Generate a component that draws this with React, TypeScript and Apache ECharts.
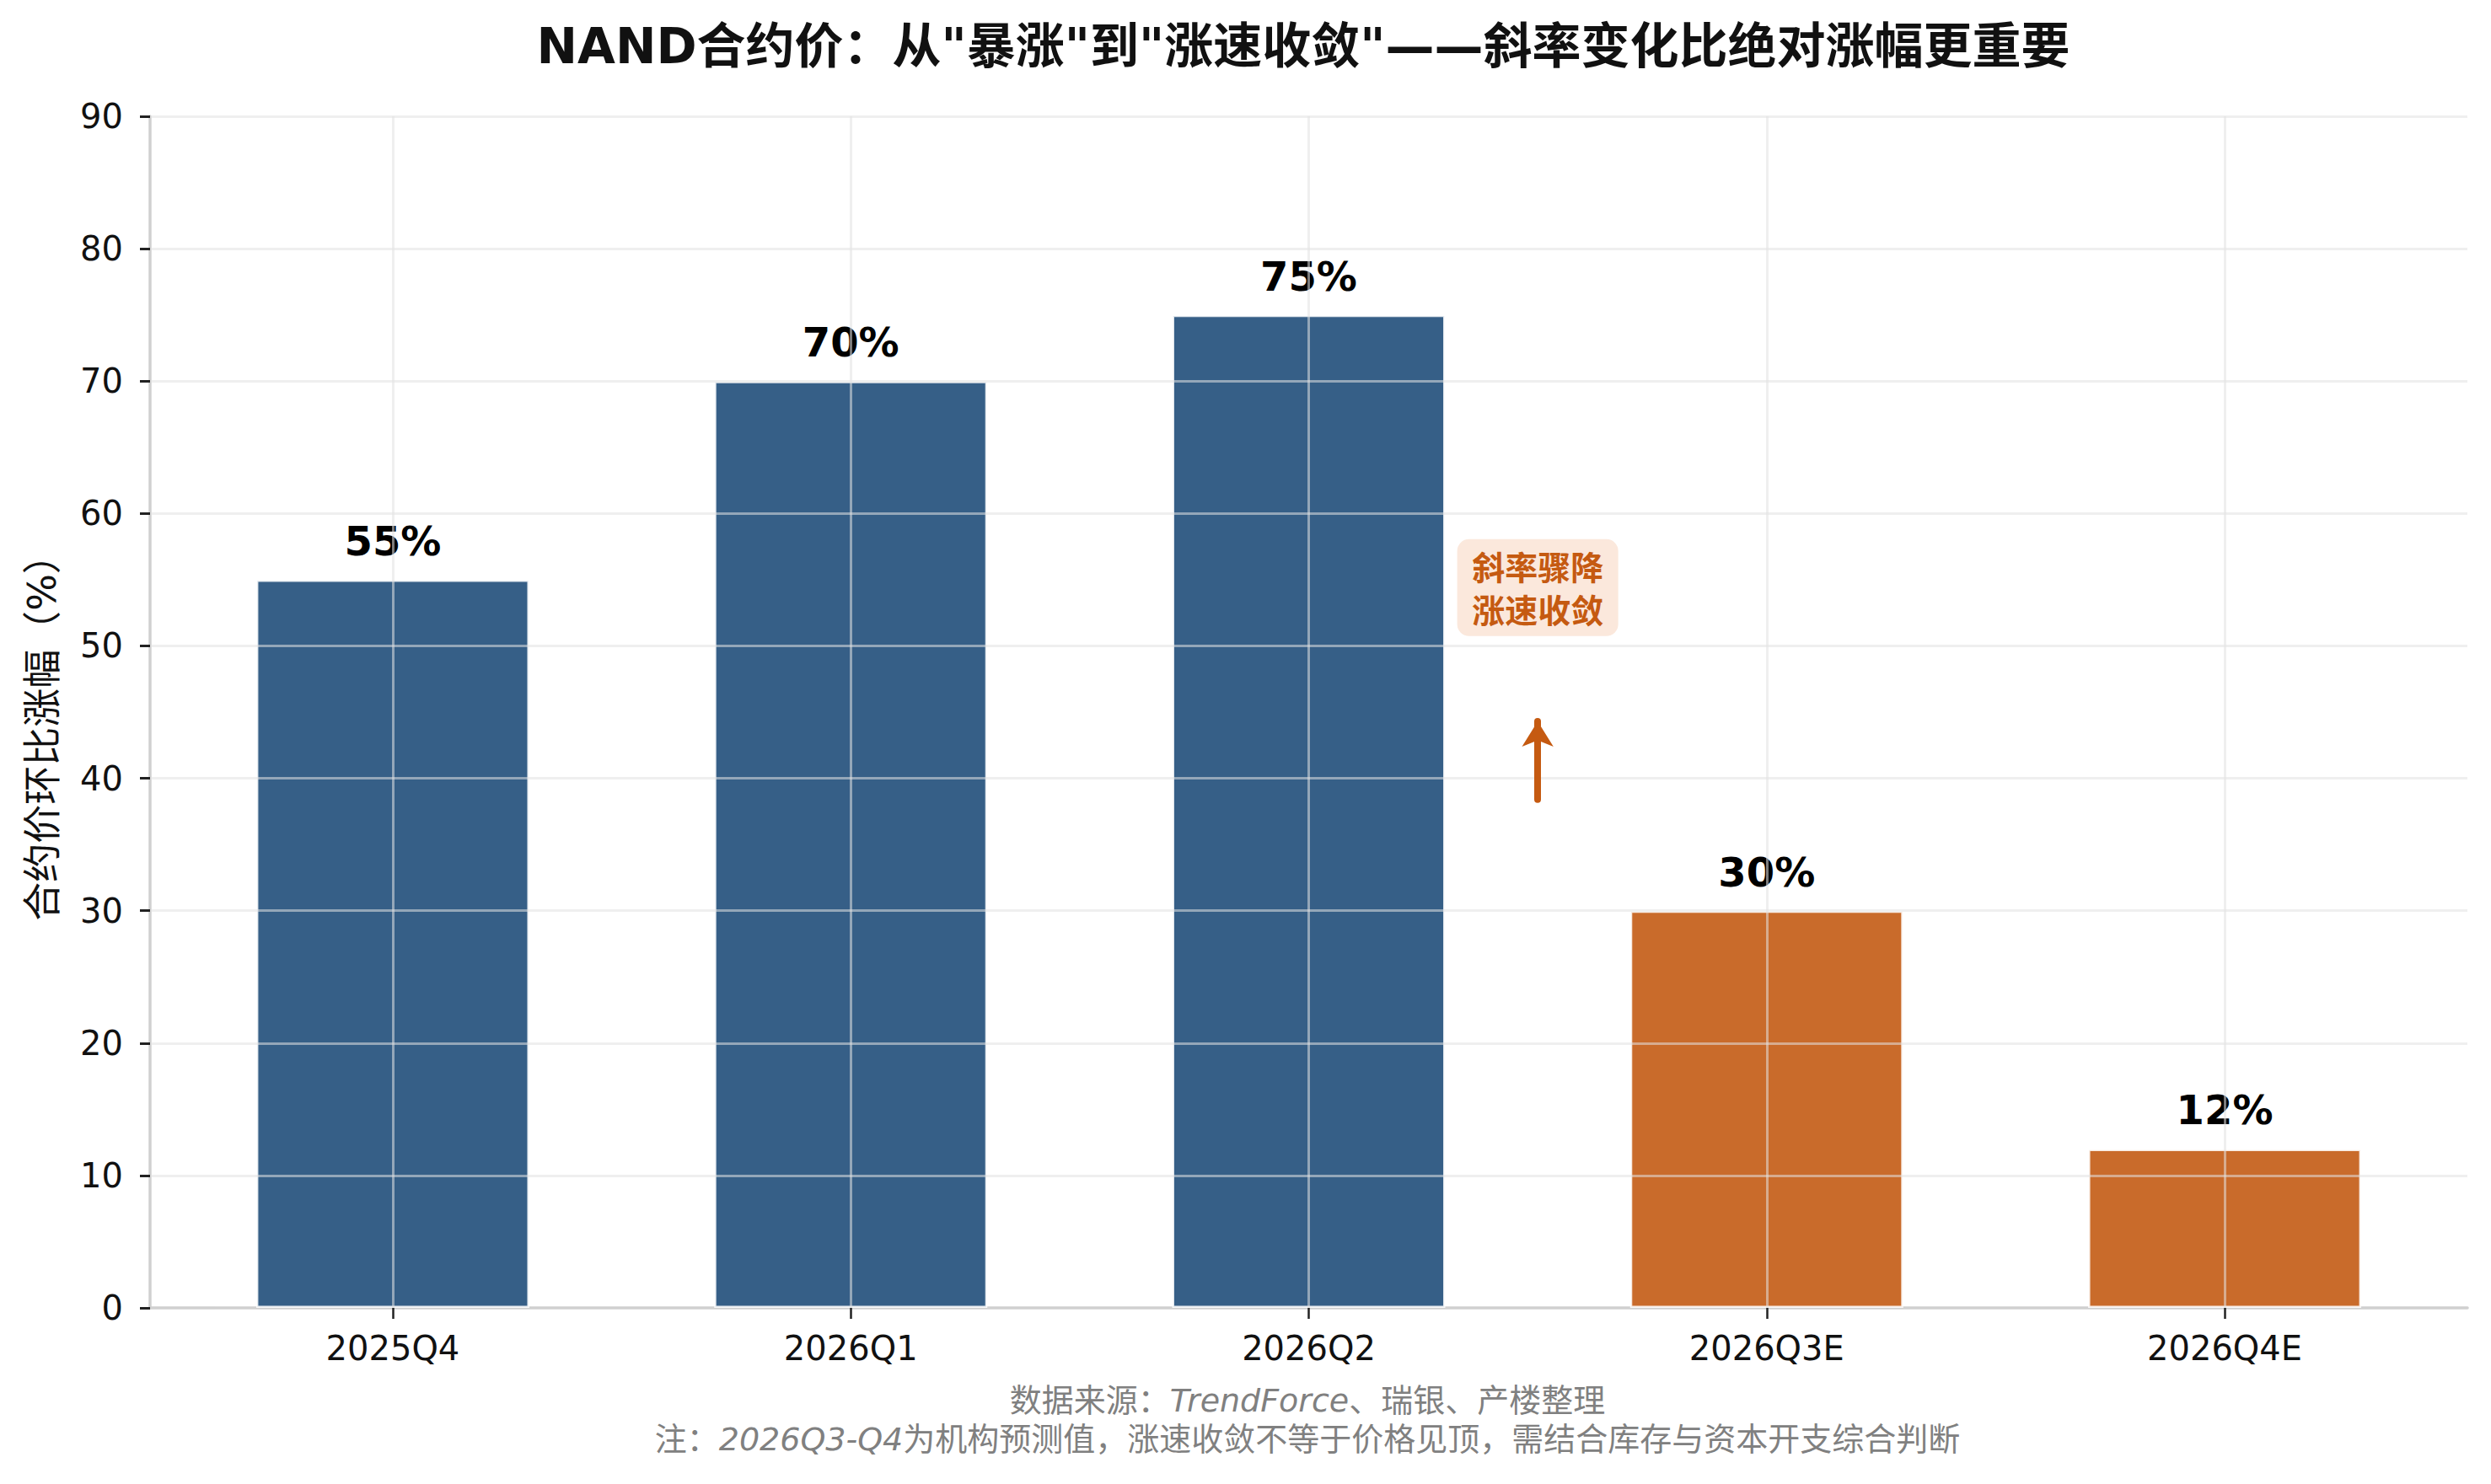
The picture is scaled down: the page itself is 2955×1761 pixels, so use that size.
import React, { useEffect, useRef } from 'react';
import * as echarts from 'echarts';

const categories = ['2025Q4', '2026Q1', '2026Q2', '2026Q3E', '2026Q4E'];
const growth = [55, 70, 75, 30, 12];
const isForecast = [false, false, false, true, true];
const categoryIndex = [0, 1, 2, 3, 4];
const yGridValues = [10, 20, 30, 40, 50, 60, 70, 80, 90];
const xRange = [-0.53, 4.53];
const arrowFrom = [2.5, 38.4];
const arrowTo = [2.5, 44.3];
const noteBoxPos = [2.5, 54.4];
const noteLines = ['斜率骤降', '涨速收敛'];
const noteLineY = [56.05, 52.85];
const titleText = 'NAND合约价：从"暴涨"到"涨速收敛"——斜率变化比绝对涨幅更重要';
const yName = '合约价环比涨幅（%）';
const sourceText = '数据来源：{it|TrendForce}、瑞银、产楼整理';
const noteLine = '注：{it|2026Q3-Q4}为机构预测值，涨速收敛不等于价格见顶，需结合库存与资本开支综合判断';

const FONT = '"DejaVu Sans", "Noto Sans CJK SC", sans-serif';
const BLUE = '#365f87';
const ORANGE = '#c96b2b';
const ACCENT = '#c55a11';
const NOTE_BG = '#fbe8dc';
const GRID = 'rgba(225,225,225,0.55)';
const ROUND_BOX =
  'path://M14,0H177A14,14 0 0 1 191,14V101A14,14 0 0 1 177,115H14A14,14 0 0 1 0,101V14A14,14 0 0 1 14,0Z';

export default function App() {
  const ref = useRef<HTMLDivElement>(null);

  useEffect(() => {
    document.body.style.margin = '0';
    document.body.style.overflow = 'hidden';
    if (!ref.current) return;
    const chart = echarts.init(ref.current, undefined, { renderer: 'svg' });
    const gridStyle = { color: GRID, width: 3, type: 'solid' };
    const arrowStyle = { color: ACCENT, width: 8, type: 'solid', cap: 'round' };

    chart.setOption({
      animation: false,
      backgroundColor: '#ffffff',
      grid: { left: 178, right: 28, top: 138, bottom: 209, containLabel: false },
      xAxis: {
        type: 'value',
        min: xRange[0],
        max: xRange[1],
        splitLine: { show: false },
        axisLine: { show: true, onZero: false, lineStyle: { color: '#d0d0d0', width: 3.5 } },
        axisTick: {
          show: true,
          customValues: categoryIndex,
          length: 13,
          lineStyle: { color: '#222', width: 2.5 },
        },
        axisLabel: {
          show: true,
          customValues: categoryIndex,
          formatter: (v: number) => categories[Math.round(v)] ?? '',
          fontSize: 40,
          color: '#111',
          fontFamily: FONT,
          margin: 28,
        },
      },
      yAxis: {
        type: 'value',
        min: 0,
        max: 90,
        interval: 10,
        splitLine: { show: false },
        axisLine: { show: true, onZero: false, lineStyle: { color: '#d0d0d0', width: 3.5 } },
        axisTick: { show: true, length: 12, lineStyle: { color: '#222', width: 3 } },
        axisLabel: { fontSize: 40, color: '#111', fontFamily: FONT, margin: 32 },
      },
      series: [
        {
          type: 'bar',
          barWidth: 324,
          data: growth.map((v, i) => ({
            value: [categoryIndex[i], v],
            itemStyle: { color: isForecast[i] ? ORANGE : BLUE },
          })),
          itemStyle: { borderColor: 'rgba(255,255,255,0.85)', borderWidth: 2.5 },
          label: {
            show: true,
            position: 'top',
            distance: 22,
            formatter: (p: any) => `${p.value[1]}%`,
            fontSize: 48,
            fontWeight: 'bold',
            color: '#000',
            fontFamily: FONT,
          },
          markLine: {
            silent: true,
            animation: false,
            symbol: ['none', 'none'],
            label: { show: false },
            emphasis: { disabled: true },
            data: [
              ...categoryIndex.map((i) => ({ xAxis: i, lineStyle: gridStyle })),
              ...yGridValues.map((v) => ({ yAxis: v, lineStyle: gridStyle })),
              [
                { coord: arrowFrom, symbol: 'none', lineStyle: arrowStyle },
                { coord: arrowTo, symbol: 'arrow', symbolSize: [28, 30], lineStyle: arrowStyle },
              ],
            ],
          },
          markPoint: {
            silent: true,
            animation: false,
            data: [
              {
                coord: noteBoxPos,
                symbol: ROUND_BOX,
                symbolSize: [191, 115],
                itemStyle: { color: NOTE_BG },
                label: { show: false },
              },
              ...noteLines.map((t, i) => ({
                coord: [noteBoxPos[0], noteLineY[i]],
                symbol: 'rect',
                symbolSize: 1,
                itemStyle: { color: 'rgba(0,0,0,0)' },
                label: {
                  show: true,
                  position: 'inside',
                  formatter: t,
                  fontSize: 39,
                  lineHeight: 39,
                  fontWeight: 'bold',
                  color: ACCENT,
                  fontFamily: '"Noto Sans CJK SC", sans-serif',
                },
              })),
            ],
          },
        },
      ],
      graphic: [
        {
          type: 'text',
          x: 1546,
          y: 55,
          style: {
            text: titleText,
            fontSize: 58,
            fontWeight: 'bold',
            fontFamily: FONT,
            fill: '#111',
            align: 'center',
            verticalAlign: 'middle',
          },
        },
        {
          type: 'text',
          x: 50,
          y: 864,
          rotation: Math.PI / 2,
          style: {
            text: yName,
            fontSize: 46,
            fontFamily: FONT,
            fill: '#111',
            align: 'center',
            verticalAlign: 'middle',
          },
        },
        {
          type: 'text',
          x: 1551,
          y: 1662,
          style: {
            text: sourceText,
            fontSize: 38,
            fontFamily: FONT,
            fill: '#808080',
            align: 'center',
            verticalAlign: 'middle',
            rich: {
              it: { fontSize: 38, fontFamily: FONT, fontStyle: 'italic', fill: '#808080' },
            },
          },
        },
        {
          type: 'text',
          x: 1551,
          y: 1708,
          style: {
            text: noteLine,
            fontSize: 38,
            fontFamily: FONT,
            fill: '#808080',
            align: 'center',
            verticalAlign: 'middle',
            rich: {
              it: { fontSize: 38, fontFamily: FONT, fontStyle: 'italic', fill: '#808080' },
            },
          },
        },
      ],
    });

    return () => chart.dispose();
  }, []);

  return <div ref={ref} style={{ width: 2955, height: 1761 }} />;
}
